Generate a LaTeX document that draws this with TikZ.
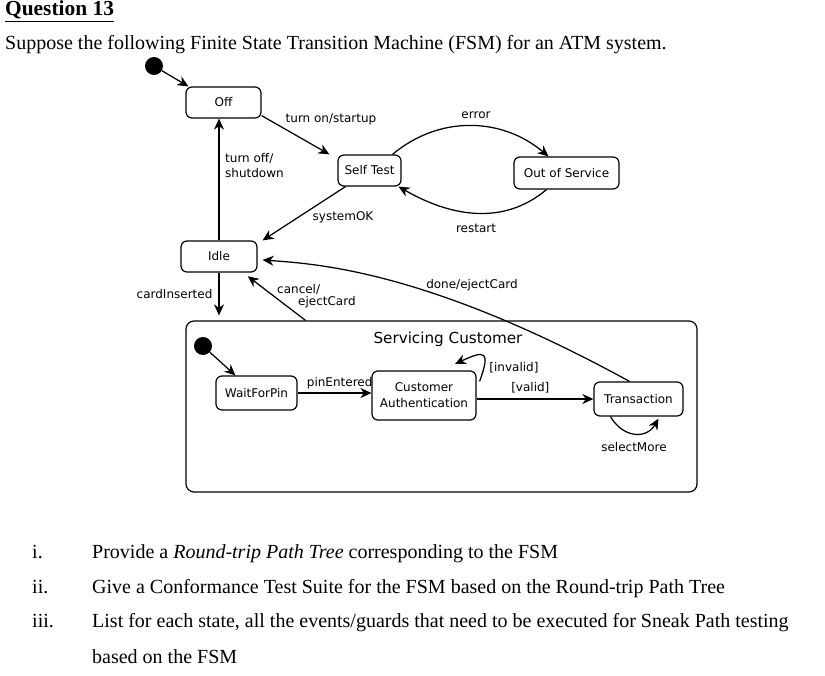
\documentclass[tikz,border=0pt]{standalone}
\usepackage{fontspec}
\setmainfont{Liberation Serif}
\newfontfamily\diafont{DejaVu Sans}
\usetikzlibrary{arrows.meta, positioning, calc}

\begin{document}
\begin{tikzpicture}[x=1pt, y=-1pt,
  st/.style={rectangle, draw, line width=1.2pt, rounded corners=6pt, align=center, font=\diafont\fontsize{12}{13.5}\selectfont, inner sep=0pt},
  init/.style={circle, fill=black, minimum size=18pt, inner sep=0pt},
  arr/.style={-{Stealth[length=11pt, width=10pt, inset=3.5pt]}, line width=1.25pt},
  lbl/.style={font=\diafont\fontsize{12}{12}\selectfont, inner sep=0pt},
  txt/.style={font=\fontsize{20}{22}\selectfont, anchor=base west, inner sep=0pt}
]
  \useasboundingbox (0,0) rectangle (825,676);

  % heading and question
  \node[txt, font=\bfseries\fontsize{21.4}{24}\selectfont] (qhead) at (5,16) {\underline{Question 13}};
  \node[txt] (qintro) at (5,50) {Suppose the following Finite State Transition Machine (FSM) for an ATM system.};

  % states
  \node[init] (start) at (154,66) {};
  \node[st, minimum width=75pt, minimum height=31pt] (off) at (223.5,102.5) {Off};
  \node[st, minimum width=63pt, minimum height=31pt] (selftest) at (369.5,170.5) {Self Test};
  \node[st, minimum width=105pt, minimum height=32pt] (oos) at (566.5,173) {Out of Service};
  \node[st, minimum width=76pt, minimum height=31pt] (idle) at (219,256.5) {Idle};
  \node[st, minimum width=511pt, minimum height=171pt, rounded corners=8pt] (serv) at (441.5,406.5) {};
  \node[lbl, font=\diafont\fontsize{15.2}{17}\selectfont] (servtitle) at (448,339) {Servicing Customer};
  \node[init] (start2) at (203,346) {};
  \node[st, minimum width=81pt, minimum height=34pt] (wait) at (256.5,393) {WaitForPin};
  \node[st, minimum width=104pt, minimum height=49pt] (auth) at (424,395.5) {Customer\\[2.5pt]Authentication};
  \node[st, minimum width=89pt, minimum height=34pt] (trans) at (638.5,399) {Transaction};

  % transitions
  \draw[arr] (start) -- ([xshift=3pt]off.north west);
  \draw[arr] ([yshift=3pt]off.south east) -- ([xshift=-8pt]selftest.north west);
  \node[lbl] (lblon) at (331,119) {turn on/startup};
  \draw[arr] (idle.north) -- (idle.north |- off.south);
  \node[lbl, align=left, anchor=north west] (lbloff) at (225,153) {turn off/\\[3pt]shutdown};
  \draw[arr] ([xshift=-24pt]selftest.south) -- ([xshift=5pt]idle.north east);
  \node[lbl] (lblok) at (343,217) {systemOK};
  \draw[arr] ([xshift=23pt]selftest.north) to[out=40, in=140] ([xshift=-18pt]oos.north);
  \node[lbl] (lblerr) at (476,115) {error};
  \draw[arr] ([xshift=-20pt]oos.south) to[out=-140, in=-30] ([xshift=-3pt]selftest.south east);
  \node[lbl] (lblrestart) at (476,228) {restart};
  \draw[arr, shorten >=5pt] (idle.south) -- node[lbl, left=6pt, pos=0.45]{cardInserted} (idle.south |- serv.north);
  \draw[arr, shorten >=6pt] ([xshift=-136pt]serv.north) -- ([xshift=24pt]idle.south);
  \node[lbl, align=left, anchor=north west] (lblcancel) at (277,284) {cancel/\\\hspace*{21pt}ejectCard};
  \draw[arr] ([xshift=-9pt]trans.north) .. controls (430,272) and (320,264) .. ([xshift=5pt, yshift=-3.5pt]idle.east);
  \node[lbl] (lbldone) at (472,285) {done/ejectCard};
  \draw[arr] (start2) -- ([xshift=20pt]wait.north west);
  \draw[arr] (wait.east) -- node[lbl, above=3pt, pos=0.57]{pinEntered} (wait.east -| auth.west);
  \draw[arr] ([yshift=-11pt]auth.north east) ++(3,0) to[out=70, in=25, looseness=2.8] (455,364);
  \node[lbl] (lblinvalid) at (514,368) {[invalid]};
  \draw[arr] (auth.east |- trans.west) -- node[lbl, above=5pt, pos=0.46]{[valid]} (trans.west);
  \draw[arr] ([xshift=-28pt]trans.south) to[out=-60, in=-120, looseness=1.3] ([xshift=20pt, yshift=-2pt]trans.south);
  \node[lbl] (lblmore) at (634,447) {selectMore};

  % questions
  \foreach \y/\n/\t in {558/i./{Provide a \textit{Round-trip Path Tree} corresponding to the FSM},
                        593/ii./{Give a Conformance Test Suite for the FSM based on the Round-trip Path Tree},
                        627/iii./{List for each state, all the events/guards that need to be executed for Sneak Path testing}}{
    \node[txt] at (32,\y) {\n};
    \node[txt] at (92,\y) {\t};
  }
  \node[txt] (qlast) at (92,663) {based on the FSM};
\end{tikzpicture}
\end{document}
